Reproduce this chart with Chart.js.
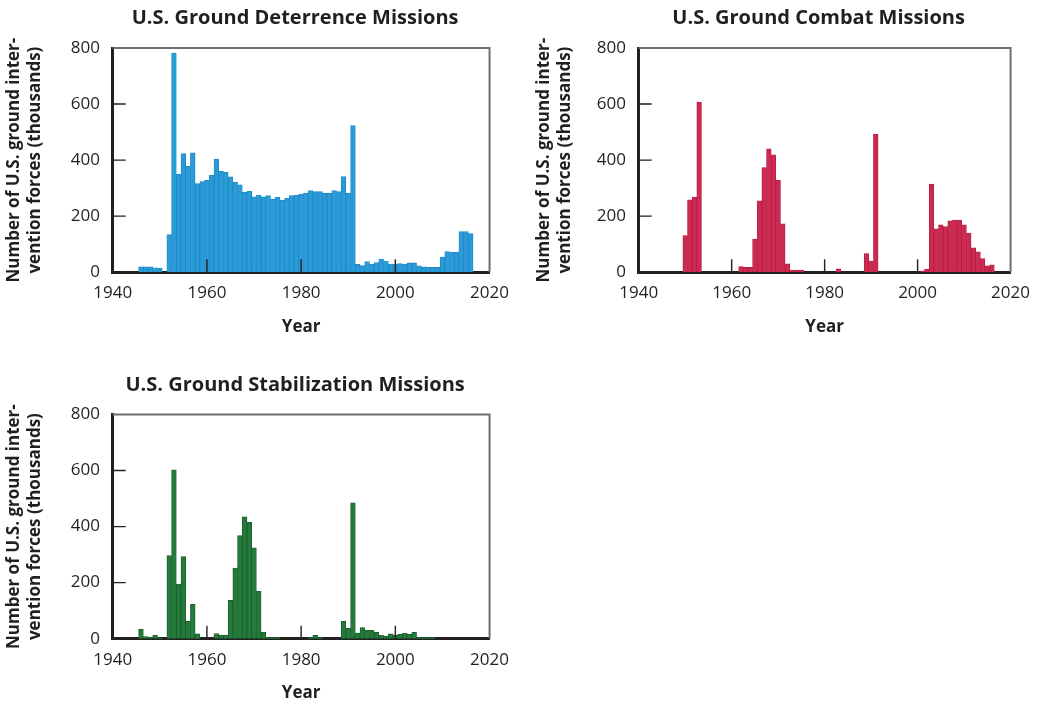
<!DOCTYPE html>
<html>
<head>
<meta charset="utf-8">
<script src="https://cdn.jsdelivr.net/npm/chart.js@4.4.1/dist/chart.umd.min.js"></script>
<style>
  html, body { margin: 0; padding: 0; background: #fff; width: 1041px; height: 702px; overflow: hidden; }
  canvas { position: absolute; }
</style>
</head>
<body>
<canvas id="deterrence" width="520" height="352" style="left:0;top:0"></canvas>
<canvas id="combat" width="511" height="352" style="left:530px;top:0"></canvas>
<canvas id="stabilization" width="520" height="352" style="left:0;top:366px"></canvas>
<script>
// U.S. ground intervention forces by mission type, thousands of troops per year
const deterrenceYears = [1946, 1947, 1948, 1949, 1950, 1952, 1953, 1954, 1955, 1956, 1957, 1958, 1959,
  1960, 1961, 1962, 1963, 1964, 1965, 1966, 1967, 1968, 1969, 1970, 1971, 1972, 1973, 1974, 1975,
  1976, 1977, 1978, 1979, 1980, 1981, 1982, 1983, 1984, 1985, 1986, 1987, 1988, 1989, 1990, 1991,
  1992, 1993, 1994, 1995, 1996, 1997, 1998, 1999, 2000, 2001, 2002, 2003, 2004, 2005, 2006, 2007,
  2008, 2009, 2010, 2011, 2012, 2013, 2014, 2015, 2016];
const deterrenceValues = [19, 19, 19, 16, 14, 134, 782, 349, 423, 378, 426, 316, 323,
  328, 346, 403, 360, 356, 340, 321, 312, 285, 289, 269, 275, 269, 273, 260, 267,
  257, 264, 273, 275, 279, 282, 291, 288, 288, 282, 282, 291, 288, 341, 281, 523,
  28, 24, 38, 29, 34, 47, 40, 29, 29, 31, 28, 33, 33, 23, 19, 17,
  17, 17, 54, 74, 72, 72, 145, 145, 138];

const combatYears = [1950, 1951, 1952, 1953, 1962, 1963, 1964, 1965, 1966, 1967, 1968, 1969, 1970,
  1971, 1972, 1973, 1974, 1975, 1983, 1989, 1990, 1991, 2001, 2002, 2003, 2004, 2005, 2006, 2007,
  2008, 2009, 2010, 2011, 2012, 2013, 2014, 2015, 2016];
const combatValues = [131, 258, 268, 607, 20, 17, 17, 118, 255, 373, 440, 419, 328,
  173, 30, 8, 8, 8, 12, 66, 40, 493, 5, 11, 314, 155, 169, 163, 183,
  186, 186, 169, 140, 87, 73, 49, 23, 26];

const stabilizationYears = [1946, 1947, 1948, 1949, 1950, 1952, 1953, 1954, 1955, 1956, 1957, 1958,
  1962, 1963, 1964, 1965, 1966, 1967, 1968, 1969, 1970, 1971, 1972, 1973, 1974, 1975, 1982, 1983,
  1984, 1989, 1990, 1991, 1992, 1993, 1994, 1995, 1996, 1997, 1998, 1999, 2000, 2001, 2002, 2003,
  2004, 2005, 2006, 2007, 2008];
const stabilizationValues = [33, 8, 6, 13, 3, 297, 603, 195, 293, 62, 123, 17,
  18, 13, 13, 137, 252, 368, 435, 415, 324, 169, 24, 4, 4, 4, 4, 12,
  4, 62, 37, 485, 20, 40, 30, 30, 23, 12, 9, 17, 13, 16, 19, 16,
  23, 4, 4, 4, 4];

const yearTicks = [1940, 1960, 1980, 2000, 2020];
const forceTicks = [0, 200, 400, 600, 800];
const innerYearMarks = [1960, 1980, 2000];
const innerForceMarks = [200, 400, 600];

const yAxisTitle = ['Number of U.S. ground inter-', 'vention forces (thousands)'];
const xAxisTitle = 'Year';

const INK = '#231f20';
const FAMILY = '"Open Sans", "Noto Sans", sans-serif';

// top/right frame, short inward tick marks and the panel heading
const panelDecor = {
  id: 'panelDecor',
  afterDraw(chart, args, opts) {
    const { ctx, chartArea: a, scales: { x, y } } = chart;
    ctx.save();
    ctx.strokeStyle = '#6d6e71';
    ctx.lineWidth = 2;
    ctx.beginPath();
    ctx.moveTo(a.left, a.top);
    ctx.lineTo(a.right, a.top);
    ctx.lineTo(a.right, a.bottom);
    ctx.stroke();

    ctx.strokeStyle = INK;
    ctx.lineWidth = 1.4;
    ctx.beginPath();
    innerYearMarks.forEach(v => {
      const px = x.getPixelForValue(v);
      ctx.moveTo(px, a.bottom);
      ctx.lineTo(px, a.bottom - 13);
    });
    innerForceMarks.forEach(v => {
      const py = y.getPixelForValue(v);
      ctx.moveTo(a.left, py);
      ctx.lineTo(a.left + 13, py);
    });
    ctx.stroke();

    ctx.fillStyle = INK;
    ctx.font = 'bold 20px ' + FAMILY;
    ctx.textAlign = 'center';
    ctx.textBaseline = 'middle';
    ctx.fillText(opts.text, (a.left + a.right) / 2 - 6, a.top - 29.5);
    ctx.restore();
  }
};

function makePanel(id, heading, years, values, fill, edge, geom) {
  const points = years.map((yr, i) => ({ x: yr, y: values[i] }));
  return new Chart(document.getElementById(id), {
    type: 'bar',
    data: {
      datasets: [{
        data: points,
        backgroundColor: fill,
        borderColor: edge,
        borderWidth: 0.8,
        borderSkipped: 'start',
        barPercentage: 1,
        categoryPercentage: 1
      }]
    },
    options: {
      responsive: false,
      animation: false,
      events: [],
      layout: { autoPadding: false, padding: { left: 0, top: geom.top, right: geom.right, bottom: 0 } },
      plugins: {
        legend: { display: false },
        tooltip: { enabled: false },
        title: { display: false },
        panelDecor: { text: heading }
      },
      scales: {
        x: {
          type: 'linear',
          min: yearTicks[0],
          max: yearTicks[yearTicks.length - 1],
          offset: false,
          z: 1,
          grid: { display: false, drawTicks: false },
          border: { display: true, color: INK, width: 3 },
          afterBuildTicks: s => { s.ticks = yearTicks.map(v => ({ value: v })); },
          ticks: {
            autoSkip: false, maxRotation: 0, padding: 11, color: INK,
            font: { family: FAMILY, size: 17 },
            callback: v => String(v)
          },
          title: {
            display: true, text: xAxisTitle, color: INK,
            font: { family: FAMILY, size: 17, weight: 'bold', lineHeight: '21px' },
            padding: { top: 0, bottom: 14 }
          },
          afterFit: s => { s.height = geom.xHeight; }
        },
        y: {
          min: forceTicks[0],
          max: forceTicks[forceTicks.length - 1],
          grid: { display: false, drawTicks: false },
          border: { display: true, color: INK, width: 3 },
          afterBuildTicks: s => { s.ticks = forceTicks.map(v => ({ value: v })); },
          ticks: {
            padding: 12.7, color: INK,
            font: { family: FAMILY, size: 17 },
            callback: v => String(v)
          },
          title: {
            display: true, text: yAxisTitle, color: INK,
            font: { family: FAMILY, size: 17, weight: 'bold', lineHeight: '21px' },
            padding: { top: 3.5, bottom: 0 }
          },
          afterFit: s => { s.width = geom.yWidth; }
        }
      }
    },
    plugins: [panelDecor]
  });
}

makePanel('deterrence', 'U.S. Ground Deterrence Missions', deterrenceYears, deterrenceValues,
  '#2b9bd7', '#1c87c6', { top: 48, right: 27.3, xHeight: 79.8, yWidth: 112.7 });
makePanel('combat', 'U.S. Ground Combat Missions', combatYears, combatValues,
  '#cd2a51', '#b51d42', { top: 48, right: 22.3, xHeight: 79.8, yWidth: 108.7 });
makePanel('stabilization', 'U.S. Ground Stabilization Missions', stabilizationYears, stabilizationValues,
  '#237a3b', '#185c2b', { top: 48.5, right: 27.3, xHeight: 79.3, yWidth: 112.7 });
</script>
</body>
</html>
